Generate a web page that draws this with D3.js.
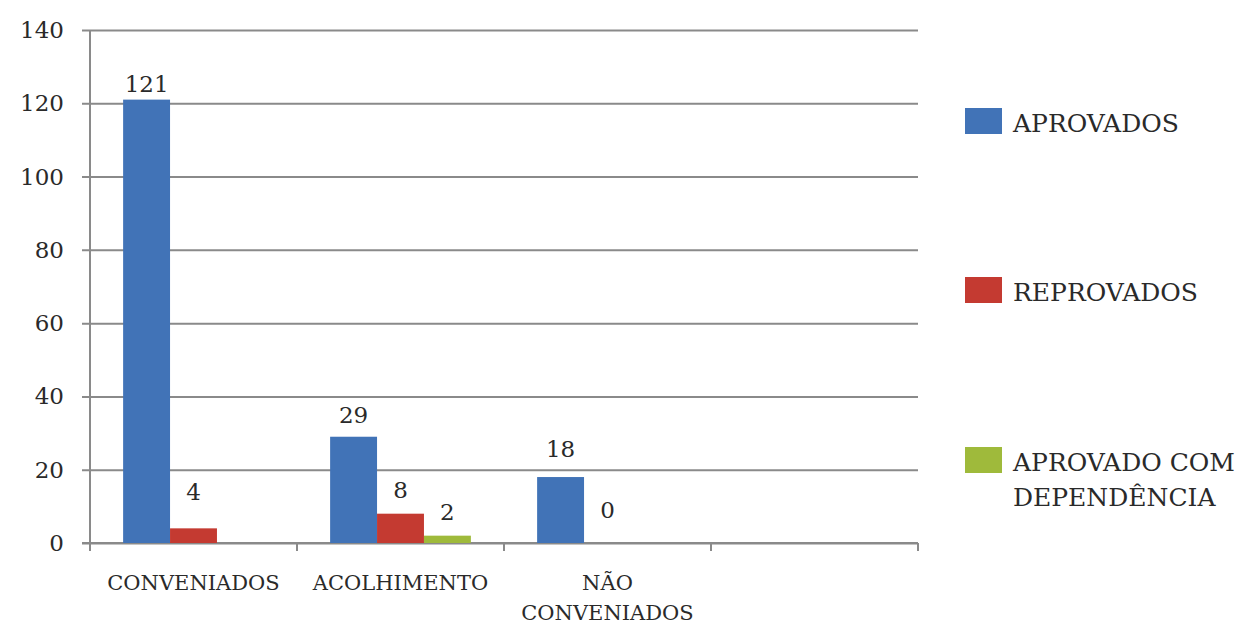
<!DOCTYPE html>
<html>
<head>
<meta charset="utf-8">
<script src="https://cdn.jsdelivr.net/npm/d3@7"></script>
<style>
  html, body { margin: 0; padding: 0; background: #ffffff; }
  svg { display: block; }
  text { font-family: "DejaVu Serif", "Liberation Serif", serif; }
</style>
</head>
<body>
<svg id="chart" width="1246" height="623"></svg>
<script>
// Categories along the x axis (the last slot is left empty)
const categories = ["CONVENIADOS", "ACOLHIMENTO", "NÃO CONVENIADOS", ""];
// Series names shown in the legend
const seriesNames = ["APROVADOS", "REPROVADOS", "APROVADO COM DEPENDÊNCIA"];
// Values per series, one entry per category (null = no bar, no label)
const aprovados   = [121, 29, 18, null];
const reprovados  = [4, 8, 0, null];
const dependencia = [null, 2, null, null];
// Y axis tick values
const yTicks = [0, 20, 40, 60, 80, 100, 120, 140];

const seriesValues = [aprovados, reprovados, dependencia];
const colors = ["#4173b7", "#c43a31", "#9fba3b"];
const textColor = "#2a2a2a";

const svg = d3.select("#chart");
const plot = { left: 90, right: 918, top: 30, bottom: 543 };

const y = d3.scaleLinear().domain([0, 140]).range([plot.bottom, plot.top]);
const x0 = d3.scaleBand().domain(categories.map((c, i) => i)).range([plot.left, plot.right]).padding(0);
const bw = x0.bandwidth();
const x1 = d3.scaleBand().domain(seriesNames).range([bw * 0.16, bw * 0.84]).padding(0);

const gridColor = "#8a8a8a";

// Horizontal gridlines with short ticks left of the axis
const yAxis = d3.axisLeft(y).tickValues(yTicks).tickSize(-(plot.right - plot.left)).tickPadding(0).tickFormat("");
const gy = svg.append("g").attr("transform", `translate(${plot.left},0)`).call(yAxis);
gy.select(".domain").remove();
gy.selectAll(".tick line").attr("x1", -8).attr("stroke", gridColor).attr("stroke-width", 2);

// Y tick labels
svg.append("g").selectAll("text").data(yTicks).join("text")
  .attr("x", 64).attr("y", d => y(d) + 8)
  .attr("text-anchor", "end").style("font-size", "23px").attr("fill", textColor)
  .text(d => d);

// Y axis line
svg.append("line").attr("x1", plot.left).attr("x2", plot.left)
  .attr("y1", plot.top).attr("y2", plot.bottom + 8)
  .attr("stroke", gridColor).attr("stroke-width", 2);

// X axis line with category separators
svg.append("line").attr("x1", plot.left - 8).attr("x2", plot.right)
  .attr("y1", plot.bottom).attr("y2", plot.bottom)
  .attr("stroke", gridColor).attr("stroke-width", 2);
const bounds = categories.map((c, i) => x0(i) + bw);
svg.append("g").selectAll("line").data(bounds).join("line")
  .attr("x1", d => d).attr("x2", d => d)
  .attr("y1", plot.bottom).attr("y2", plot.bottom + 8)
  .attr("stroke", gridColor).attr("stroke-width", 2);

// Word wrap for labels wider than the space they have
function wrapText(sel, maxWidth, lineHeight) {
  sel.each(function () {
    const t = d3.select(this);
    const words = t.text().split(" ");
    const xPos = t.attr("x");
    t.text(null);
    let line = [];
    let tspan = t.append("tspan").attr("x", xPos).attr("dy", 0);
    words.forEach(w => {
      line.push(w);
      tspan.text(line.join(" "));
      if (tspan.node().getComputedTextLength() > maxWidth && line.length > 1) {
        line.pop();
        tspan.text(line.join(" "));
        line = [w];
        tspan = t.append("tspan").attr("x", xPos).attr("dy", lineHeight).text(w);
      }
    });
  });
}

// Category labels
svg.append("g").selectAll("text").data(categories).join("text")
  .attr("x", (d, i) => x0(i) + bw / 2).attr("y", 590)
  .attr("text-anchor", "middle").style("font-size", "21px").attr("fill", textColor)
  .text(d => d)
  .call(wrapText, bw - 10, 30);

// Bars
const barData = [];
seriesValues.forEach((vals, s) => {
  vals.forEach((v, c) => {
    if (v !== null) barData.push({ s, c, v });
  });
});

svg.append("g").selectAll("rect").data(barData).join("rect")
  .attr("x", d => x0(d.c) + x1(seriesNames[d.s]))
  .attr("y", d => y(d.v))
  .attr("width", x1.bandwidth())
  .attr("height", d => plot.bottom - y(d.v))
  .attr("fill", d => colors[d.s]);

// Value labels above bars; some sit higher above their bar than others
const labelLift = { "0|0": 8, "1|0": 28, "0|1": 14, "1|1": 16, "2|1": 16, "0|2": 20, "1|2": 25 };
svg.append("g").selectAll("text").data(barData).join("text")
  .attr("x", d => x0(d.c) + x1(seriesNames[d.s]) + x1.bandwidth() / 2)
  .attr("y", d => y(d.v) - (labelLift[d.s + "|" + d.c] || 10))
  .attr("text-anchor", "middle").style("font-size", "23px").attr("fill", textColor)
  .text(d => d.v);

// Legend
const legendY = [121, 290, 460];
const legend = svg.append("g").selectAll("g").data(seriesNames).join("g")
  .attr("transform", (d, i) => `translate(965,${legendY[i]})`);
legend.append("rect").attr("x", 0).attr("y", -13).attr("width", 37).attr("height", 26)
  .attr("fill", (d, i) => colors[i]);
legend.append("text").attr("x", 48).attr("y", 11)
  .style("font-size", "25px").attr("fill", textColor)
  .text(d => d)
  .call(wrapText, 240, 35);
</script>
</body>
</html>
